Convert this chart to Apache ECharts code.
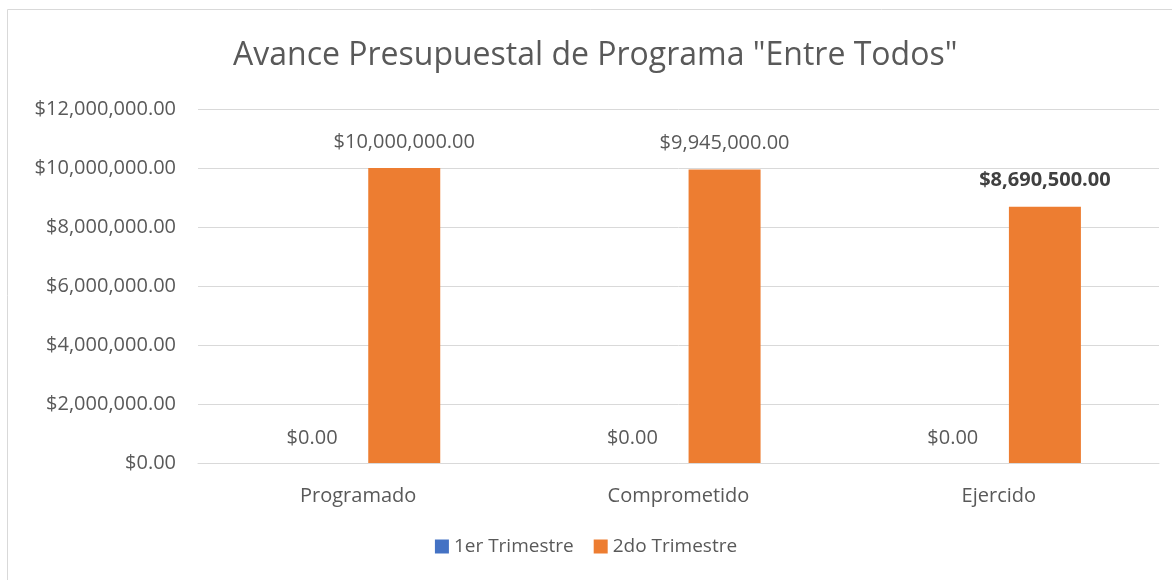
<!DOCTYPE html>
<html>
<head>
<meta charset="utf-8">
<script src="https://cdn.jsdelivr.net/npm/echarts@6/dist/echarts.min.js"></script>
<style>
    html, body { margin: 0; padding: 0; background: #fff; }
    #chart { width: 1172px; height: 580px; }
</style>
</head>
<body>
<div id="chart"></div>
<script>
// Data
var categories = ['Programado', 'Comprometido', 'Ejercido'];
var seriesNames = ['1er Trimestre', '2do Trimestre'];
var trimestre1 = [0, 0, 0];
var trimestre2 = [10000000, 9945000, 8690500];

var money = function(v) {
    return '$' + Number(v).toLocaleString('en-US', {minimumFractionDigits: 2, maximumFractionDigits: 2});
};

var font = '"Open Sans", "Noto Sans", sans-serif';
var textColor = '#595959';

var chart = echarts.init(document.getElementById('chart'));

chart.setOption({
    color: ['#4472C4', '#ED7D31'],
    textStyle: { fontFamily: font, color: textColor },
    animation: false,

    // Outer frame
    graphic: [{
        type: 'rect',
        shape: { x: 7.5, y: 9.5, width: 1180, height: 590 },
        style: { fill: 'none', stroke: '#D9D9D9', lineWidth: 1 },
        silent: true
    }],

    title: {
        text: 'Avance Presupuestal de Programa "Entre Todos"',
        left: 228,
        top: 35,
        textStyle: { fontFamily: font, fontSize: 32, fontWeight: 'normal', color: textColor }
    },

    legend: {
        data: seriesNames,
        bottom: 19,
        left: 'center',
        itemWidth: 14,
        itemHeight: 14,
        itemGap: 20,
        icon: 'rect',
        textStyle: { fontFamily: font, fontSize: 19, color: textColor }
    },

    grid: { left: 198, right: 13, top: 109, bottom: 117, containLabel: false },

    xAxis: {
        type: 'category',
        data: categories,
        axisLine: { lineStyle: { color: '#D9D9D9', width: 1 } },
        axisTick: { show: false },
        axisLabel: { fontFamily: font, fontSize: 20, color: textColor, margin: 23 }
    },

    yAxis: {
        type: 'value',
        min: 0,
        max: 12000000,
        interval: 2000000,
        axisLine: { show: false },
        axisTick: { show: false },
        splitLine: { lineStyle: { color: '#D9D9D9', width: 1 } },
        axisLabel: { fontFamily: font, fontSize: 20, color: textColor, margin: 22, formatter: money }
    },

    series: [{
        name: seriesNames[0],
        type: 'bar',
        data: trimestre1,
        barWidth: 72,
        barGap: '28%',
        label: {
            show: true, position: 'top', distance: 15,
            fontFamily: font, fontSize: 20, color: textColor,
            formatter: function(p) { return money(p.value); }
        }
    }, {
        name: seriesNames[1],
        type: 'bar',
        data: trimestre2.map(function(v, i) {
            return i === 2 ? {value: v, label: {fontWeight: 'bold', color: '#404040'}} : v;
        }),
        barWidth: 72,
        barGap: '28%',
        label: {
            show: true, position: 'top', distance: 16,
            fontFamily: font, fontSize: 20, color: textColor,
            formatter: function(p) { return money(p.value); }
        }
    }]
});
</script>
</body>
</html>
